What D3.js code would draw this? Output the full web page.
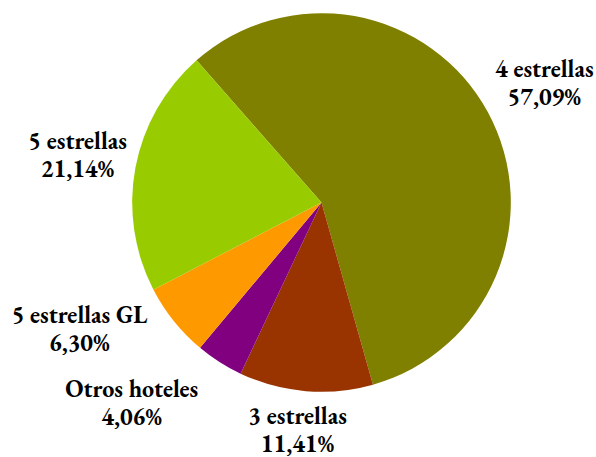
<!DOCTYPE html>
<html lang="es">
<head>
<meta charset="UTF-8">
<title>Hoteles por categoría</title>
<style>
  body { margin: 0; background: #fff; }
</style>
</head>
<body>
<svg width="596" height="457"></svg>
<script src="https://d3js.org/d3.v7.min.js"></script>
<script>
// data, clockwise from the olive slice
const categories = ["4 estrellas", "3 estrellas", "Otros hoteles", "5 estrellas GL", "5 estrellas"];
const values = [57.09, 11.41, 4.06, 6.30, 21.14];
const colors = ["#808000", "#993300", "#800080", "#FF9900", "#99CC00"];

const data = categories.map((c, i) => ({ name: c, value: values[i], color: colors[i] }));

const cx = 321.5, cy = 202.5, radius = 189.3;
const startAngle = -41.3 * Math.PI / 180;

const svg = d3.select("svg");
const g = svg.append("g").attr("transform", `translate(${cx},${cy})`);

const pie = d3.pie()
    .value(d => d.value)
    .sort(null)
    .startAngle(startAngle)
    .endAngle(startAngle + 2 * Math.PI);

const arc = d3.arc().innerRadius(0).outerRadius(radius);

const arcs = pie(data);

g.selectAll("path")
    .data(arcs)
    .enter().append("path")
    .attr("d", arc)
    .attr("fill", d => d.data.color);

// label placement (angle in degrees from 12 o'clock, distance from centre)
const labelPlace = {
    "4 estrellas": [63.5, 249],
    "3 estrellas": [185.8, 236.5],
    "Otros hoteles": [222.3, 282],
    "5 estrellas GL": [240.9, 277],
    "5 estrellas": [279.1, 247]
};

const fmt = v => d3.format(".2f")(v).replace(".", ",") + "%";

const labels = g.selectAll(".label")
    .data(arcs)
    .enter().append("text")
    .attr("class", "label")
    .style("font-family", '"EB Garamond"')
    .style("font-weight", "bold")
    .style("font-size", "24px")
    .attr("fill", "#000")
    .attr("text-anchor", "middle")
    .attr("transform", d => {
        const [a, r] = labelPlace[d.data.name];
        const t = a * Math.PI / 180;
        return `translate(${r * Math.sin(t)},${-r * Math.cos(t)})`;
    });

labels.append("tspan").attr("x", 0).attr("y", -14).text(d => d.data.name);
labels.append("tspan").attr("x", 0).attr("y", 14).text(d => fmt(d.data.value));
</script>
</body>
</html>
